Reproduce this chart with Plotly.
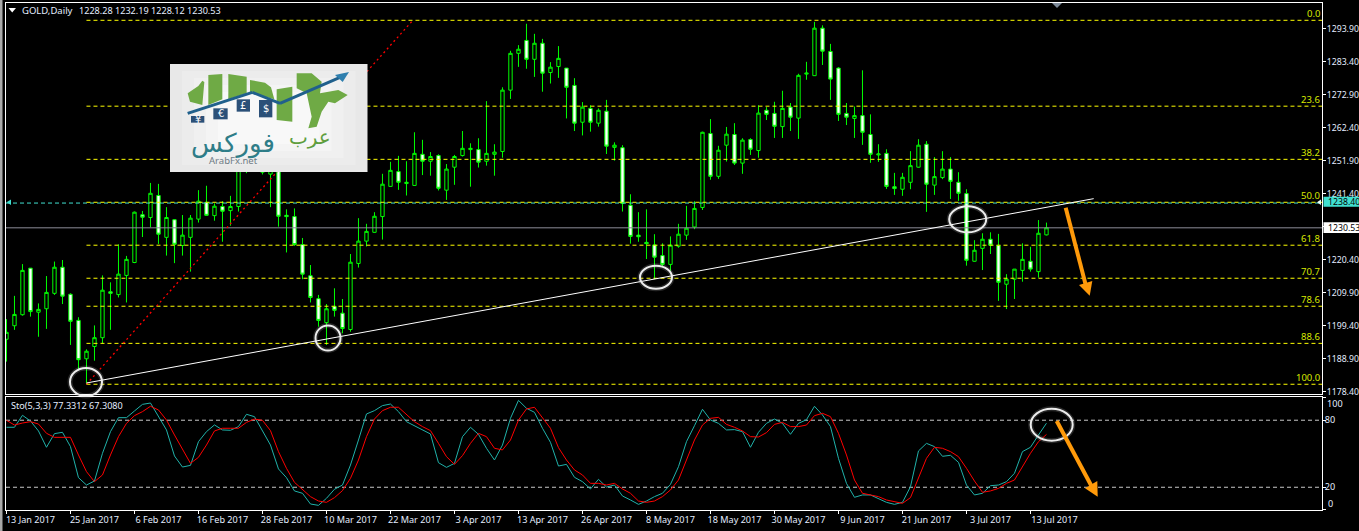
import plotly.graph_objects as go

W, H = 1359, 531

opens = [1195.1,1199.4,1202.9,1217.7,1203.7,1204.8,1209.7,1218.0,1209.4,1201.1,
1188.9,1192.8,1195.6,1210.2,1209.3,1215.4,1219.5,1234.7,1233.8,1240.8,
1227.5,1233.1,1224.9,1227.5,1233.3,1238.6,1234.4,1237.3,1236.0,1237.3,
1256.4,1251.1,1248.2,1247.6,1252.1,1234.5,1234.1,1225.2,1215.3,1208.0,
1200.4,1205.5,1203.4,1198.2,1219.2,1226.3,1229.1,1234.1,1243.7,1248.4,
1244.6,1244.0,1253.9,1251.7,1253.5,1242.5,1249.8,1253.5,1255.4,1255.4,
1251.7,1253.9,1254.8,1274.3,1286.0,1290.1,1284.1,1289.2,1279.9,1281.8,
1281.3,1275.8,1264.1,1268.5,1263.8,1267.6,1256.1,1256.0,1237.7,1228.2,
1225.9,1225.1,1221.7,1218.9,1224.7,1228.2,1230.8,1237.0,1260.5,1246.9,
1256.8,1260.2,1251.1,1258.6,1255.1,1267.9,1266.9,1262.7,1268.9,1265.4,
1279.4,1278.9,1294.0,1286.6,1281.3,1266.9,1265.3,1266.2,1260.2,1253.7,
1254.2,1243.6,1242.8,1245.0,1249.8,1257.1,1244.1,1246.5,1249.2,1245.0,
1241.4,1219.9,1224.0,1226.9,1224.9,1212.6,1214.2,1217.0,1219.9,1216.6,1228.28]

closes = [1197.3,1203.0,1217.0,1203.9,1204.6,1210.0,1218.0,1208.8,1200.8,1188.6,
1191.3,1195.6,1210.7,1209.7,1215.8,1220.5,1235.5,1233.9,1241.5,1228.5,
1233.8,1225.3,1228.2,1233.6,1239.0,1234.5,1237.4,1235.8,1237.3,1255.3,
1253.2,1255.3,1249.5,1251.1,1234.2,1234.1,1225.2,1215.8,1208.4,1201.1,
1204.8,1204.3,1198.5,1219.6,1226.3,1229.4,1234.2,1244.4,1248.8,1245.0,
1245.0,1254.2,1251.7,1253.2,1243.1,1249.2,1253.2,1255.8,1255.8,1251.4,
1254.2,1254.6,1274.3,1286.0,1287.3,1284.1,1289.2,1279.7,1281.6,1284.4,
1275.2,1263.8,1268.9,1264.1,1267.9,1256.5,1256.8,1238.3,1227.8,1227.7,
1225.5,1221.2,1218.9,1225.0,1228.5,1230.4,1236.7,1260.9,1246.9,1255.2,
1260.3,1251.1,1258.4,1255.5,1267.0,1266.6,1262.8,1268.5,1265.7,1279.0,
1279.7,1294.0,1286.7,1277.8,1266.6,1265.7,1266.2,1260.9,1253.9,1254.0,
1243.7,1243.0,1246.6,1250.3,1256.8,1244.4,1246.8,1249.2,1245.3,1241.5,
1220.2,1223.4,1226.9,1225.0,1213.2,1214.2,1217.4,1220.5,1217.4,1228.8,1230.53]

highs = [1201.5,1208.9,1219.0,1217.7,1206.5,1215.2,1219.8,1220.3,1209.7,1202.1,
1191.9,1199.5,1215.4,1213.2,1225.3,1221.6,1235.7,1235.9,1244.8,1244.5,
1237.1,1233.3,1234.6,1234.6,1242.5,1243.9,1238.3,1239.0,1240.7,1257.4,
1258.5,1256.4,1252.1,1252.1,1253.2,1236.4,1236.7,1227.3,1218.7,1209.2,
1206.3,1211.3,1207.9,1222.2,1233.6,1231.8,1235.5,1247.7,1251.5,1253.4,
1251.7,1260.9,1258.5,1254.6,1253.9,1250.8,1253.7,1261.3,1257.4,1259.0,
1270.8,1257.1,1275.2,1286.8,1288.6,1295.4,1292.2,1290.6,1283.2,1288.3,
1281.3,1278.1,1270.5,1269.5,1268.5,1271.2,1257.7,1256.8,1241.2,1235.5,
1236.4,1228.5,1225.6,1227.8,1231.8,1237.5,1239.0,1261.1,1265.1,1256.6,
1262.6,1263.8,1259.0,1259.0,1269.5,1268.9,1270.6,1274.1,1270.2,1279.5,
1283.3,1296.0,1294.9,1289.0,1281.6,1270.2,1269.1,1280.6,1266.6,1257.1,
1255.5,1248.0,1248.0,1254.9,1258.7,1258.1,1253.0,1254.9,1253.0,1248.2,
1242.8,1226.6,1228.8,1229.1,1228.6,1215.8,1217.4,1225.6,1224.5,1233.0,1232.19]

lows = [1188.0,1198.1,1202.6,1202.3,1195.9,1198.4,1209.2,1206.3,1193.3,1185.3,
1180.8,1188.3,1193.8,1198.1,1208.4,1206.8,1219.3,1227.6,1230.7,1225.4,
1221.7,1219.3,1221.7,1216.6,1232.2,1234.4,1232.8,1226.1,1231.2,1235.7,
1247.9,1248.9,1247.5,1237.1,1230.9,1222.7,1224.8,1214.2,1206.8,1199.1,
1193.3,1202.3,1197.0,1197.5,1217.9,1224.6,1229.0,1226.8,1243.6,1242.6,
1240.8,1244.0,1247.3,1247.1,1242.4,1239.4,1244.2,1253.2,1243.6,1249.7,
1250.3,1247.1,1252.8,1271.5,1281.7,1281.1,1278.5,1273.8,1276.4,1278.2,
1265.3,1261.3,1259.9,1261.1,1262.7,1254.0,1251.9,1235.7,1225.5,1226.1,
1220.6,1214.2,1218.2,1216.9,1224.2,1226.7,1230.1,1236.2,1245.8,1246.1,
1251.6,1250.5,1247.7,1253.7,1252.8,1264.8,1259.1,1259.1,1261.3,1258.8,
1277.6,1278.9,1282.3,1271.2,1264.5,1263.2,1259.1,1256.9,1251.2,1251.5,
1242.9,1241.0,1240.7,1242.8,1249.7,1235.6,1241.0,1246.0,1239.7,1239.1,
1218.5,1219.8,1217.1,1222.2,1207.3,1204.7,1207.9,1213.4,1216.6,1214.7,1228.12]

sto_main = [73.7,73.7,84.4,79.3,70.4,55.8,68.0,69.2,56.4,28.6,22.0,25.6,50.4,69.8,82.3,82.3,88.3,94.2,95.4,83.2,
71.3,48.0,38.1,39.6,60.8,69.8,75.8,71.3,71.0,74.3,85.3,83.2,70.7,57.8,36.4,28.6,16.7,14.6,5.0,3.8,
10.1,18.2,22.0,39.9,62.3,85.6,88.6,93.1,94.5,87.7,78.7,75.1,71.3,67.7,42.0,37.8,
41.4,65.3,73.7,67.4,54.9,44.4,57.8,81.7,97.8,90.7,87.1,72.8,60.2,39.0,40.5,28.9,25.0,18.5,27.1,20.2,
22.0,12.2,8.6,4.7,7.7,11.6,14.6,22.6,38.4,60.8,75.1,89.8,80.2,77.2,71.3,71.6,69.8,55.8,69.2,77.2,
81.1,77.2,67.4,77.2,80.5,92.5,84.7,74.3,45.9,23.5,11.0,13.1,13.1,9.8,6.5,4.7,
6.5,20.5,52.5,59.3,56.4,47.7,48.6,42.3,22.0,13.1,14.6,21.4,22.0,25.0,32.5,51.9,55.8,66.8,77.33]

sto_signal = [79.9,75.7,77.5,78.7,76.6,68.3,64.7,64.7,64.7,48.9,34.0,25.0,31.0,48.9,65.3,77.2,84.1,87.7,92.5,89.2,
80.2,66.8,53.4,41.4,46.8,57.8,70.4,72.8,72.8,72.8,78.1,81.1,79.9,70.7,51.9,37.0,24.4,17.6,11.6,7.7,
6.5,10.7,17.0,28.0,44.4,65.3,81.1,88.6,91.6,91.6,84.7,78.7,74.3,70.7,59.3,47.4,
40.5,48.3,59.3,68.3,65.3,54.9,53.4,62.3,80.2,90.1,91.6,81.7,72.8,55.5,44.4,35.5,31.0,23.5,23.5,22.0,
23.5,18.5,14.6,7.7,6.5,7.7,11.6,17.6,26.5,44.4,62.3,75.7,81.7,82.6,76.3,73.7,70.4,65.3,65.0,68.9,
76.3,78.1,74.3,74.3,75.7,84.1,86.2,83.2,68.3,48.9,26.5,14.6,13.1,11.6,8.6,7.1,
5.6,10.7,28.0,45.9,55.8,54.9,51.9,47.4,37.0,25.6,15.5,16.7,19.0,23.5,26.5,38.4,50.4,60.8,67.31]

date_labels = ["13 Jan 2017","25 Jan 2017","6 Feb 2017","16 Feb 2017","28 Feb 2017","10 Mar 2017",
               "22 Mar 2017","3 Apr 2017","13 Apr 2017","26 Apr 2017","8 May 2017","18 May 2017",
               "30 May 2017","9 Jun 2017","21 Jun 2017","3 Jul 2017","13 Jul 2017"]
date_bars = [0,8,16,24,32,40,48,56,64,72,80,88,96,104,112,120,128]
price_ticks = [1293.9,1283.4,1272.9,1262.4,1251.9,1241.4,1230.9,1220.4,1209.9,1199.4,1188.9,1178.4]
fib_names = ["0.0","23.6","38.2","50.0","61.8","70.7","78.6","88.6","100.0"]
fib_prices = [1296.5,1269.2,1252.3,1238.65,1225.0,1214.5,1205.6,1193.8,1180.8]
fib_trend_bars = [10,50.8]
fib_trend_prices = [1180.8,1296.5]
support_bars = [10,135.9]
support_prices = [1181.2,1239.8]
ask_price = 1238.40
last_price = 1230.53
sto_header = "Sto(5,3,3) 77.3312 67.3080"

bars = list(range(len(opens)))
X_MIN, X_MAX = -0.06, 164.44

def fx(p):
    return p / W

def fy(p):
    return 1 - p / H

def pts(points):
    return "M " + " L ".join(f"{fx(a):.5f},{fy(b):.5f}" for a, b in points) + " Z"

shapes, annos = [], []

def poly(points, color, opacity=1):
    shapes.append(dict(type="path", xref="paper", yref="paper", path=pts(points),
                       fillcolor=color, line=dict(width=0), opacity=opacity, layer="above"))

def rect(x0, y0, x1, y1, color):
    shapes.append(dict(type="rect", xref="paper", yref="paper", x0=fx(x0), x1=fx(x1), y0=fy(y0), y1=fy(y1),
                       fillcolor=color, line=dict(width=0), layer="above"))

def seg(x0, y0, x1, y1, color, width):
    shapes.append(dict(type="line", xref="paper", yref="paper", x0=fx(x0), x1=fx(x1), y0=fy(y0), y1=fy(y1),
                       line=dict(color=color, width=width), layer="above"))

def ellipse(cx, cy, rx, ry):
    for w, c, o in ((5, "#ffffff", 0.15), (2, "#ececec", 1)):
        shapes.append(dict(type="circle", xref="paper", yref="paper", x0=fx(cx-rx), x1=fx(cx+rx),
                           y0=fy(cy+ry), y1=fy(cy-ry), line=dict(color=c, width=w), opacity=o, layer="above"))

def label(x, y, text, color="#e4edff", size=9.1, xanchor="left", family="Noto Sans"):
    annos.append(dict(xref="paper", yref="paper", x=fx(x), y=fy(y), text=text, showarrow=False,
                      xanchor=xanchor, yanchor="middle", xshift=0, borderpad=0,
                      font=dict(color=color, size=size, family=family)))

fig = go.Figure()

# horizontal price lines
fig.add_trace(go.Scatter(x=[X_MIN, X_MAX], y=[ask_price]*2, mode="lines",
                         line=dict(color="#40e0d0", width=1, dash="4px,3px"), hoverinfo="skip"))
fig.add_trace(go.Scatter(x=[X_MIN, X_MAX], y=[last_price]*2, mode="lines",
                         line=dict(color="#8c8c98", width=1), hoverinfo="skip"))
for p in fib_prices:
    fig.add_trace(go.Scatter(x=[10, X_MAX], y=[p, p], mode="lines",
                             line=dict(color="#ffff00", width=1, dash="4px,3px"), hoverinfo="skip"))
fig.add_trace(go.Scatter(x=fib_trend_bars, y=fib_trend_prices, mode="lines",
                         line=dict(color="#ff0000", width=1.3, dash="2px,3px"), hoverinfo="skip"))

fig.add_trace(go.Candlestick(x=bars, open=opens, high=highs, low=lows, close=closes,
                             increasing=dict(line=dict(color="#00ff00", width=1), fillcolor="#000000"),
                             decreasing=dict(line=dict(color="#00ff00", width=1), fillcolor="#ffffff"),
                             whiskerwidth=0, hoverinfo="skip"))

fig.add_trace(go.Scatter(x=support_bars, y=support_prices, mode="lines",
                         line=dict(color="#ffffff", width=1), hoverinfo="skip"))

# stochastic panel
for lvl in (80, 20):
    fig.add_trace(go.Scatter(x=[X_MIN, X_MAX], y=[lvl, lvl], mode="lines", xaxis="x2", yaxis="y2",
                             line=dict(color="#c8c8c8", width=1, dash="4px,3px"), hoverinfo="skip"))
fig.add_trace(go.Scatter(x=bars, y=sto_main, mode="lines", xaxis="x2", yaxis="y2",
                         line=dict(color="#20b2aa", width=1), hoverinfo="skip"))
fig.add_trace(go.Scatter(x=bars, y=sto_signal, mode="lines", xaxis="x2", yaxis="y2",
                         line=dict(color="#ff0000", width=1), hoverinfo="skip"))

# window furniture
rect(0, 0, 2.5, H, "#a8a8a8")
poly([(1052, 3), (1062, 3), (1057, 8)], "#7d8a99")
poly([(6.5, 202.3), (11, 199.5), (11, 205)], "#40e0d0")
poly([(1317, 202.3), (1321, 199.5), (1321, 205)], "#e8fffb")
poly([(8.5, 8), (16, 8), (12.2, 12.5)], "#ffffff")

# logo
def lz(a, b):
    return (165 + a / 3, 60 + b / 3)

for k, g in enumerate(["#e8e8e8", "#ececec", "#f0f0f0", "#f4f4f4", "#f8f8f8"]):
    rect(170 + 12*k, 64 + 7*k, 367.5 - 12*k, 172 - 7*k, g)
green = "#6faa45"
poly([lz(*p) for p in [(68,100),(100,78),(112,62),(118,66),(112,135),(75,125)]], green)
poly([lz(*p) for p in [(130,45),(172,42),(172,118),(130,135)]], green)
poly([lz(*p) for p in [(190,42),(245,50),(245,100),(190,118)]], green)
poly([lz(*p) for p in [(255,60),(300,68),(318,82),(328,118),(262,100),(255,100)]], green)
poly([lz(*p) for p in [(335,88),(382,80),(382,185),(335,180)]], green)
poly([lz(*p) for p in [(395,40),(440,40),(470,65),(465,100),(520,90),(548,105),(510,130),(490,125),
                       (470,155),(455,200),(430,205),(440,170),(425,100),(395,85)]], green)
blue = "#20608c"
for a, b in [((68,160),(262,97)), ((262,97),(345,130)), ((345,130),(525,52))]:
    seg(*lz(*a), *lz(*b), blue, 3)
poly([lz(*p) for p in [(510,45),(552,36),(533,66)]], "#2f7fae")
coins = [((78,168,118,188), "¥"), ((145,145,188,178), "€"), ((215,118,255,155), "£"), ((282,120,322,172), "$")]
for (a, b, c, d), t in coins:
    rect(*lz(a, b), *lz(c, d), "#2b5078")
    label(*lz((a+c)/2, (b+d)/2), t, color="#ffffff", size=10, xanchor="center", family="DejaVu Sans")
label(*lz(435, 232), "عرب", color="#5f9e3e", size=20, xanchor="center", family="DejaVu Sans")
label(*lz(205, 252), "فوركس", color="#2e7d88", size=26, xanchor="center", family="DejaVu Sans")
label(*lz(205, 300), "ArabFx.net", color="#6e7b85", size=9.5, xanchor="center")

# marks drawn over the chart
ellipse(86, 382, 16, 14)
ellipse(328, 338, 12.5, 12.5)
ellipse(656, 277.3, 16, 11.5)
ellipse(967.7, 219.3, 18.5, 13)
ellipse(1051.7, 424.7, 21, 16)

orange = "#ff9a0a"
seg(1065.7, 207.7, 1086, 286, orange, 4)
poly([(1079, 285), (1092.3, 281), (1089.7, 295.7)], orange)
seg(1056.7, 421, 1092, 487, orange, 4)
poly([(1085, 488.3), (1097.3, 481), (1097.7, 496.7)], orange)

# price tags on the right
rect(1323.5, 196.7, W, 206.7, "#40e0d0")
label(1327, 202, f"{ask_price:.2f}", color="#000000", size=8.7)
rect(1323.5, 222.3, W, 233, "#ffffff")
label(1327, 227.7, f"{last_price:.2f}", color="#000000", size=8.7)

# header texts
label(21, 10.5, "GOLD,Daily", size=9.5)
label(78, 10.5, f"{opens[-1]:.2f} {highs[-1]:.2f} {lows[-1]:.2f} {closes[-1]:.2f}")
label(10, 405.7, sto_header)
label(1326, 403.5, "100")
label(1327, 503.5, "0")

for name, p in zip(fib_names, fib_prices):
    annos.append(dict(xref="paper", yref="y", x=fx(1321), y=p, yshift=6.5, text=name, showarrow=False,
                      xanchor="right", yanchor="middle", borderpad=0,
                      font=dict(color="#d8e800", size=9.5, family="Noto Sans")))

tick_font = dict(color="#e4edff", size=9.1, family="Noto Sans")
price_font = dict(color="#e4edff", size=8.7, family="Noto Sans")
fig.update_layout(
    width=W, height=H, margin=dict(l=0, r=0, t=0, b=0, autoexpand=False),
    paper_bgcolor="#000000", plot_bgcolor="#000000",
    showlegend=False, hovermode=False, boxgap=0.4,
    shapes=shapes, annotations=annos,
    xaxis=dict(domain=[fx(6), fx(1322)], range=[X_MIN, X_MAX], anchor="y", rangeslider=dict(visible=False),
               automargin=False,
               showgrid=False, zeroline=False, showline=True, linecolor="#ffffff", linewidth=1, mirror=True,
               showticklabels=False, ticks=""),
    xaxis2=dict(domain=[fx(6), fx(1322)], range=[X_MIN, X_MAX], anchor="y2", automargin=False,
                showgrid=False, zeroline=False, showline=True, linecolor="#ffffff", linewidth=1, mirror=True,
                tickmode="array", tickvals=date_bars, ticktext=date_labels, ticks="outside", ticklen=3,
                tickcolor="#ffffff", tickfont=tick_font, ticklabelshift=24, ticklabelstandoff=-2, tickangle=0),
    yaxis=dict(domain=[fy(394), fy(3)], range=[1177.7, 1302.0], anchor="x", side="right", automargin=False,
               showgrid=False, zeroline=False, showline=True, linecolor="#ffffff", linewidth=1, mirror=True,
               tickmode="array", tickvals=price_ticks, tickformat=".2f", ticks="outside", ticklen=3,
               tickcolor="#ffffff", tickfont=price_font, ticklabelstandoff=-1),
    yaxis2=dict(domain=[fy(510), fy(397)], range=[-0.36, 100.8], anchor="x2", side="right", automargin=False,
                showgrid=False, zeroline=False, showline=True, linecolor="#ffffff", linewidth=1, mirror=True,
                tickmode="array", tickvals=[100, 80, 20, 0], ticktext=["", "80", "20", ""], ticks="outside",
                ticklen=3, tickcolor="#ffffff", tickfont=tick_font, ticklabelstandoff=-3),
)

fig.write_html("out.html", config=dict(displayModeBar=False),
               post_script="var r=document.documentElement;r.style.background='#000';r.style.overflow='hidden';"
                           "r.style.height='531px';document.body.style.margin='0';document.body.style.overflow='hidden';"
                           "document.body.style.height='531px';")
